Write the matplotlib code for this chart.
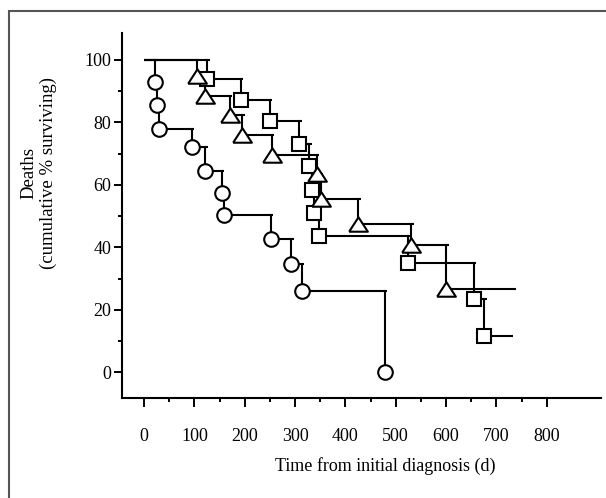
import matplotlib
matplotlib.use('Agg')
import matplotlib.pyplot as plt
from matplotlib.patches import Rectangle
from matplotlib.ticker import MultipleLocator

plt.rcParams['font.family'] = ['Liberation Serif', 'DejaVu Serif']

# Event times (days) and survival after each event (%)
circle_days = [22, 26, 30, 95, 121, 154, 158, 252, 292, 313, 478]
circle_surv = [93, 85.6, 78, 72, 64.6, 57.5, 50.4, 42.6, 34.6, 26, 0]
circle_end = 478

triangle_days = [105, 121, 170, 195, 254, 343, 351, 426, 531, 600]
triangle_surv = [94.8, 88.3, 82.5, 76, 69.5, 63.5, 55.5, 47.5, 40.6, 26.8]
triangle_end = 740

square_days = [125, 192, 250, 308, 328, 333, 337, 348, 525, 655, 676]
square_surv = [94, 87, 80.5, 73, 66, 58.5, 51, 43.7, 35, 23.5, 11.5]
square_end = 734

x_ticks = [0, 100, 200, 300, 400, 500, 600, 700, 800]
y_ticks = [0, 20, 40, 60, 80, 100]

# Wide, flat triangle as drawn in the original
TRIANGLE = [(-1, -0.77), (1, -0.77), (0, 0.77), (-1, -0.77)]


# Draw one Kaplan-Meier style step curve with open markers at each event
def plot_km(ax, days, surv, end, marker, ms, overhang=5):
    t_prev, s_prev = 0, 100
    for t, s in zip(days, surv):
        ax.plot([t_prev, t + overhang], [s_prev, s_prev], 'k-', lw=1.5,
                solid_capstyle='butt', zorder=2)
        ax.plot([t, t], [s_prev, s], 'k-', lw=1.5, zorder=2)
        t_prev, s_prev = t, s
    if end > t_prev:
        ax.plot([t_prev, end], [s_prev, s_prev], 'k-', lw=1.5,
                solid_capstyle='butt', zorder=2)
    ax.plot(days, surv, linestyle='none', marker=marker, ms=ms,
            mfc='white', mec='black', mew=1.5, zorder=3)


fig = plt.figure(figsize=(6.06, 4.98), dpi=100)
ax = fig.add_axes([122 / 606, 100 / 498, 479 / 606, 365 / 498])

plot_km(ax, circle_days, circle_surv, circle_end, 'o', 10.5)
plot_km(ax, square_days, square_surv, square_end, 's', 10)
plot_km(ax, triangle_days, triangle_surv, triangle_end, TRIANGLE, 13.5)

ax.set_xlim(-44, 908)
ax.set_ylim(-8.2, 108.6)

ax.set_xticks(x_ticks)
ax.set_yticks(y_ticks)
ax.xaxis.set_minor_locator(MultipleLocator(100))
ax.set_xticks([t + 50 for t in x_ticks[:-1]], minor=True)
ax.set_yticks([t + 10 for t in y_ticks[:-1]], minor=True)

for side in ['top', 'right']:
    ax.spines[side].set_visible(False)
for side in ['left', 'bottom']:
    ax.spines[side].set_linewidth(1.5)

ax.tick_params(axis='x', which='major', length=6.5, width=1.4, pad=15, labelsize=13)
ax.tick_params(axis='x', which='minor', length=3, width=1.4)
ax.tick_params(axis='y', which='major', length=5.8, width=1.4, pad=2, labelsize=13)
ax.tick_params(axis='y', which='minor', length=3, width=1.4)

ax.set_xlabel('Time from initial diagnosis (d)', fontsize=13)
ax.xaxis.set_label_coords(0.549, -0.186)
ax.xaxis.label.set_va('center')

fig.text(39 / 606, 1 - 173 / 498, 'Deaths\n(cumulative % surviving)',
         rotation=90, ha='center', va='center', multialignment='center',
         fontsize=13.5)

# Grey frame around the figure, cut off at the right and bottom
fig.patches.append(Rectangle((9 / 606, -0.05), 1.2, 1.05 - 11 / 498,
                             transform=fig.transFigure, fill=False,
                             ec='#555555', lw=1.5))

fig.savefig('out.png', dpi=100)
